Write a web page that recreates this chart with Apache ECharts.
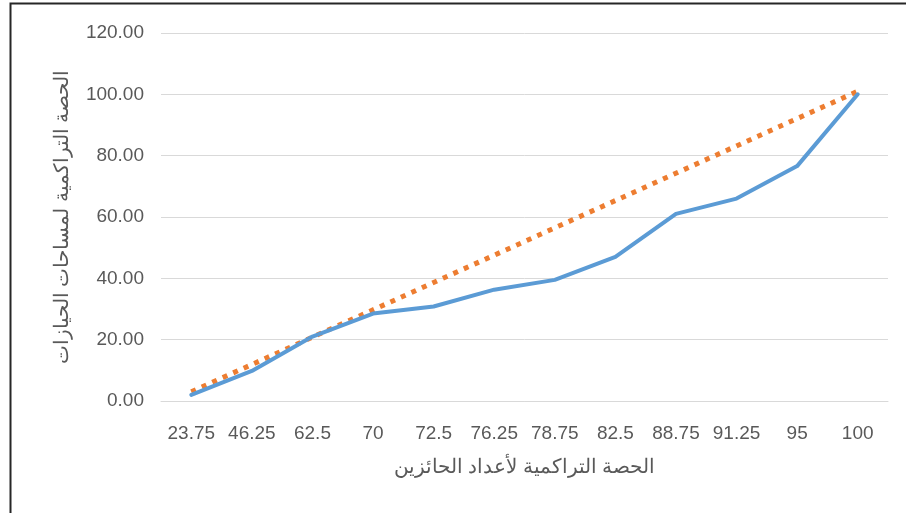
<!DOCTYPE html>
<html>
<head>
<meta charset="utf-8">
<script src="https://cdn.jsdelivr.net/npm/echarts@6/dist/echarts.min.js"></script>
<style>
  html, body { margin: 0; padding: 0; background: #fff; }
  #chart { width: 906px; height: 513px; }
</style>
</head>
<body>
<div id="chart"></div>
<script>
// Cumulative share of holders (category labels)
const categories = ['23.75', '46.25', '62.5', '70', '72.5', '76.25', '78.75', '82.5', '88.75', '91.25', '95', '100'];
// Cumulative share of holding areas (Lorenz curve)
const lorenzValues = [2.0, 9.8, 21.0, 28.5, 30.8, 36.3, 39.5, 47.0, 61.0, 66.0, 76.6, 100.0];
// Reference line: values at the first and last category, joined straight
const equalityValues = [3.0, null, null, null, null, null, null, null, null, null, null, 101.0];
// Y-axis range
const yMin = 0, yMax = 120, yStep = 20;

const xTitle = 'الحصة التراكمية لأعداد الحائزين';
const yTitle = 'الحصة التراكمية لمساحات الحيازات';

const font = "'Liberation Sans', Arial, sans-serif";
const textColor = '#595959';

const chart = echarts.init(document.getElementById('chart'), null, { renderer: 'canvas' });
chart.setOption({
  backgroundColor: '#ffffff',
  animation: false,
  graphic: [{
    type: 'rect',
    shape: { x: 10.5, y: 3.5, width: 1000, height: 600 },
    style: { fill: 'none', stroke: '#262626', lineWidth: 2 },
    z: 100
  }],
  grid: { left: 161, right: 18, top: 33, bottom: 112, containLabel: false },
  xAxis: {
    type: 'category',
    data: categories,
    boundaryGap: true,
    name: xTitle,
    nameLocation: 'middle',
    nameGap: 56,
    nameTextStyle: { color: textColor, fontSize: 20, fontFamily: font },
    axisLine: { show: true, lineStyle: { color: '#d9d9d9', width: 1 } },
    axisTick: { show: false },
    axisLabel: { color: textColor, fontSize: 19, fontFamily: font, margin: 23, interval: 0 }
  },
  yAxis: {
    type: 'value',
    min: yMin,
    max: yMax,
    interval: yStep,
    name: yTitle,
    nameLocation: 'middle',
    nameRotate: 90,
    nameGap: 89,
    nameTextStyle: { color: textColor, fontSize: 20, fontFamily: font },
    axisLine: { show: false },
    axisTick: { show: false },
    axisLabel: {
      color: textColor, fontSize: 19, fontFamily: font, margin: 17,
      padding: [5, 0, 0, 0],
      formatter: v => v.toFixed(2)
    },
    splitLine: { show: true, lineStyle: { color: '#d9d9d9', width: 1 } }
  },
  series: [
    {
      name: 'equality',
      type: 'line',
      data: equalityValues,
      connectNulls: true,
      symbol: 'none',
      lineStyle: { color: '#ED7D31', width: 5, type: [5, 6.5], cap: 'butt' },
      z: 2
    },
    {
      name: 'lorenz',
      type: 'line',
      data: lorenzValues,
      symbol: 'none',
      lineStyle: { color: '#5B9BD5', width: 4, cap: 'round', join: 'round' },
      z: 3
    }
  ]
});
</script>
</body>
</html>
